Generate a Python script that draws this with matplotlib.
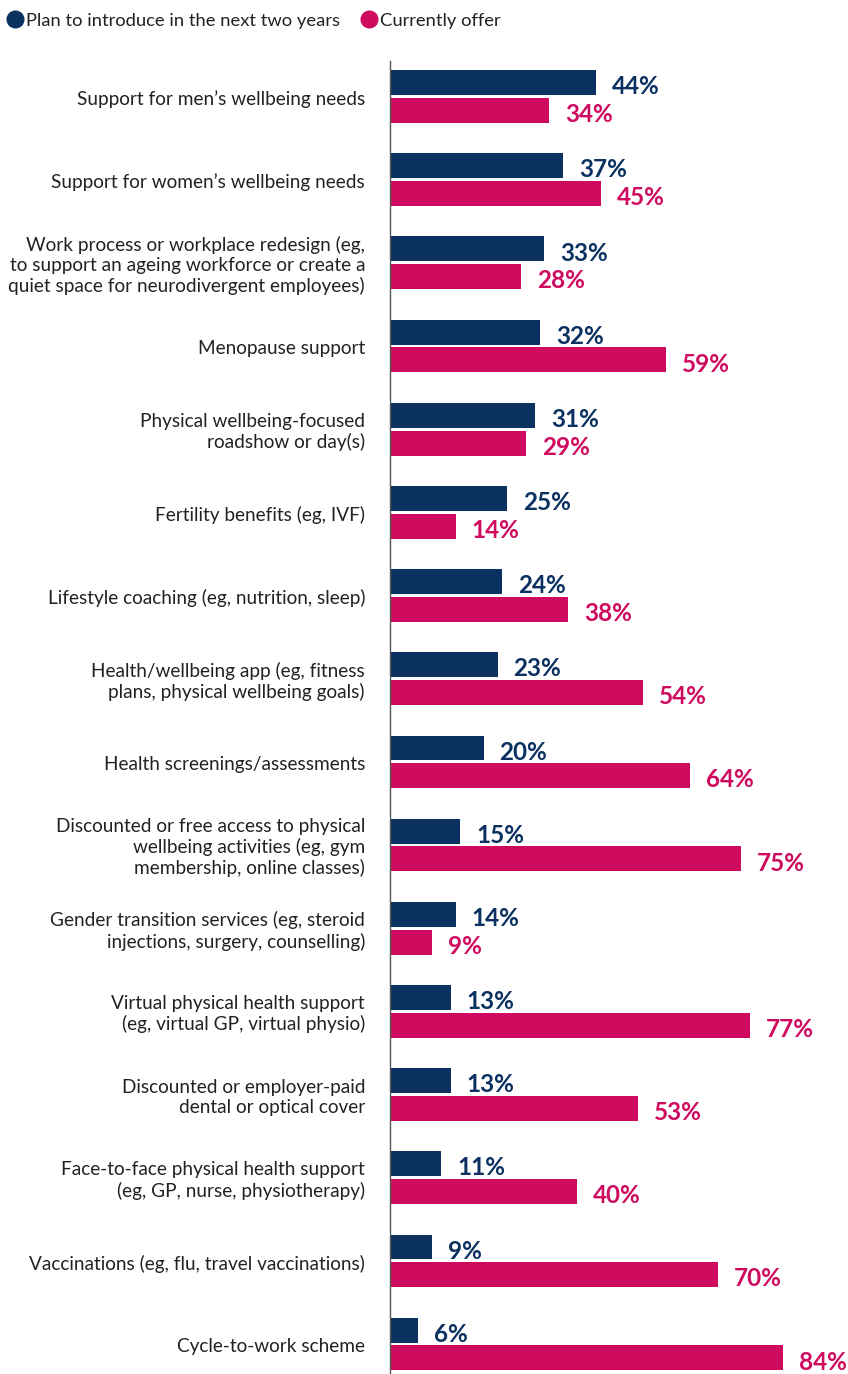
import matplotlib
matplotlib.use("Agg")
import matplotlib.pyplot as plt
from matplotlib.lines import Line2D
import numpy as np

plt.rcParams['font.family'] = ['Lato', 'DejaVu Sans']

categories = [
    "Support for men’s wellbeing needs",
    "Support for women’s wellbeing needs",
    "Work process or workplace redesign (eg,\nto support an ageing workforce or create a\nquiet space for neurodivergent employees)",
    "Menopause support",
    "Physical wellbeing-focused\nroadshow or day(s)",
    "Fertility benefits (eg, IVF)",
    "Lifestyle coaching (eg, nutrition, sleep)",
    "Health/wellbeing app (eg, fitness\nplans, physical wellbeing goals)",
    "Health screenings/assessments",
    "Discounted or free access to physical\nwellbeing activities (eg, gym\nmembership, online classes)",
    "Gender transition services (eg, steroid\ninjections, surgery, counselling)",
    "Virtual physical health support\n(eg, virtual GP, virtual physio)",
    "Discounted or employer-paid\ndental or optical cover",
    "Face-to-face physical health support\n(eg, GP, nurse, physiotherapy)",
    "Vaccinations (eg, flu, travel vaccinations)",
    "Cycle-to-work scheme",
]
plan_next_two_years = [44, 37, 33, 32, 31, 25, 24, 23, 20, 15, 14, 13, 13, 11, 9, 6]
currently_offer = [34, 45, 28, 59, 29, 14, 38, 54, 64, 75, 9, 77, 53, 40, 70, 84]
series_names = ["Plan to introduce in the next two years", "Currently offer"]

NAVY = "#0a3160"
PINK = "#cf0b60"
TEXT = "#222222"

W, H = 848, 1374
fig = plt.figure(figsize=(W / 100, H / 100), dpi=100)
ax = fig.add_axes([390 / W, 0, 1 - 390 / W, (H - 61) / H])

y = np.arange(len(categories))
off = 0.167
bh = 0.30
ax.barh(y - off, plan_next_two_years, height=bh, color=NAVY)
ax.barh(y + off, currently_offer, height=bh, color=PINK)

for yi, v in zip(y, plan_next_two_years):
    ax.annotate(f"{v}%", (v, yi - off), xytext=(11.5, -3), textcoords="offset points",
                ha="left", va="center", fontsize=17.5, fontweight="bold", color=NAVY)
for yi, v in zip(y, currently_offer):
    ax.annotate(f"{v}%", (v, yi + off), xytext=(11.5, -3), textcoords="offset points",
                ha="left", va="center", fontsize=17.5, fontweight="bold", color=PINK)

# category labels, right-aligned to the left of the axis line
for yi, lab in zip(y, categories):
    ax.annotate(lab, (0, yi), xycoords=("axes fraction", "data"),
                xytext=(-18, -2), textcoords="offset points",
                ha="right", va="center", multialignment="right",
                fontsize=13.7, color=TEXT, linespacing=1.2)

ax.set_xlim(0, 97.86)
ax.set_ylim(15.36, -0.427)
ax.set_yticks([])
ax.set_xticks([])
for s in ["top", "right", "bottom"]:
    ax.spines[s].set_visible(False)
ax.spines["left"].set_color("#555555")
ax.spines["left"].set_linewidth(1.0)

handles = [
    Line2D([], [], marker="o", linestyle="none", markersize=12, color=NAVY),
    Line2D([], [], marker="o", linestyle="none", markersize=12, color=PINK),
]
fig.legend(handles, series_names, loc="upper left", bbox_to_anchor=(-0.011, 1.0),
           ncol=2, frameon=False, fontsize=13.2, handletextpad=0.0,
           columnspacing=1.0, handlelength=1.2, borderaxespad=0.3,
           labelcolor=TEXT)

fig.savefig("out.png", dpi=100)
